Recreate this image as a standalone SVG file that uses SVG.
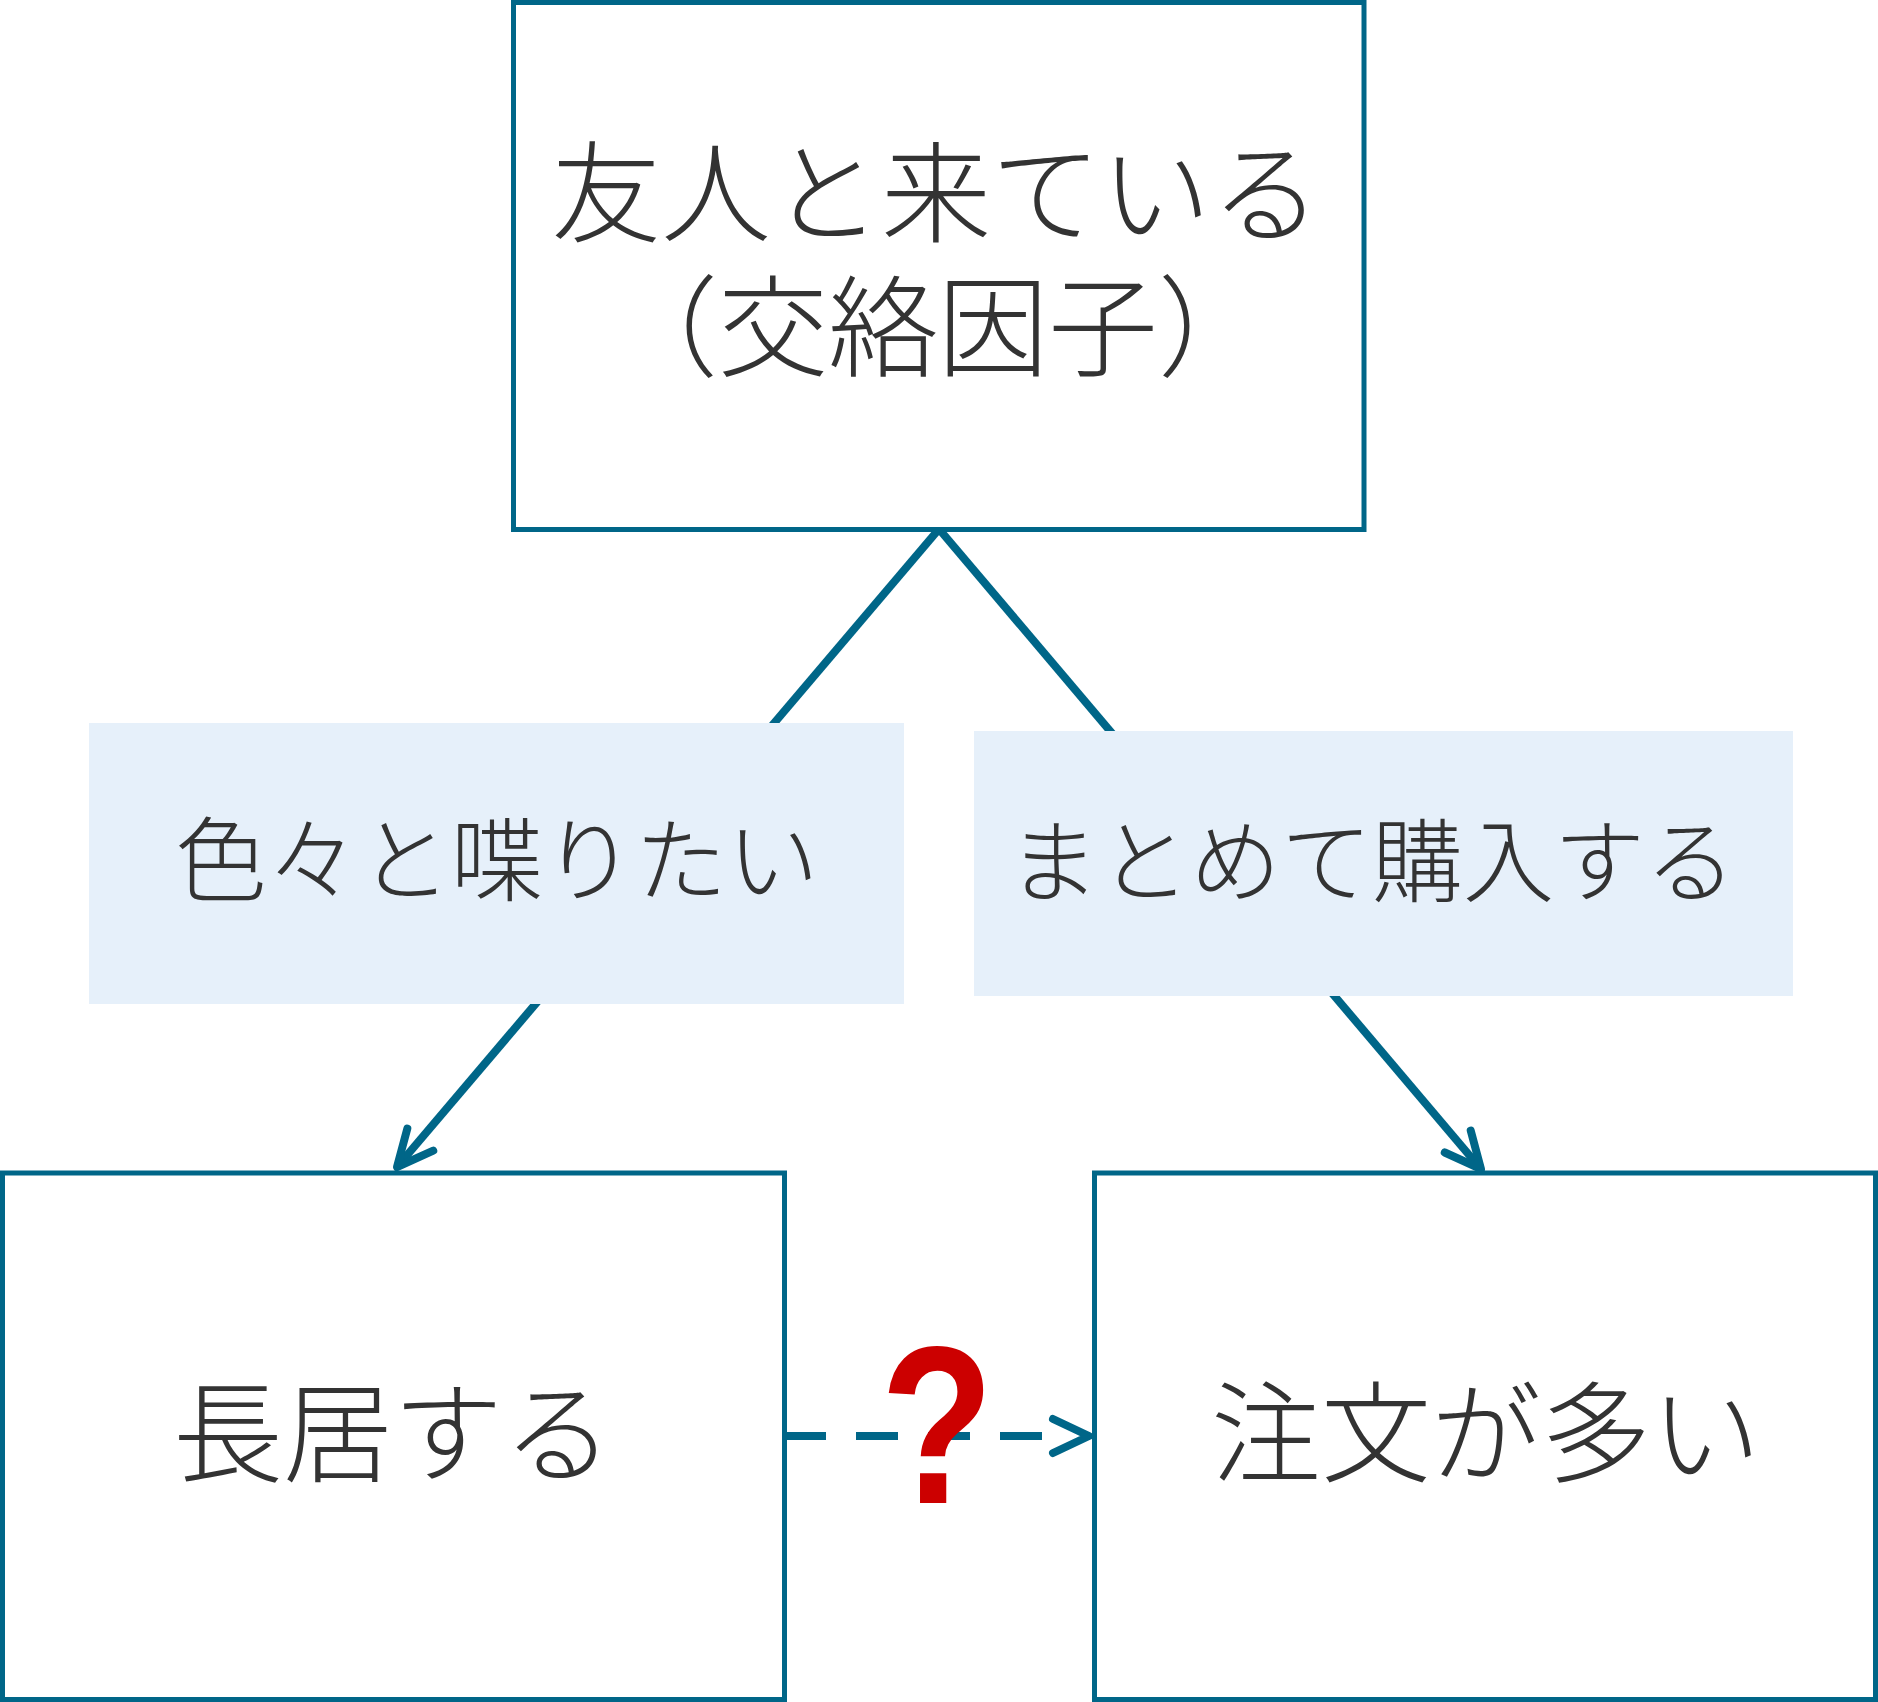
<svg xmlns="http://www.w3.org/2000/svg" width="1878" height="1702" viewBox="0 0 1878 1702">
  <style>
    .box { fill: #FFFFFF; stroke: #006688; stroke-width: 5; }
    .lbl { fill: #E6F0FA; stroke: none; }
    .txt { font-family: "Noto Sans CJK JP", "Noto Sans", sans-serif; font-weight: 300; fill: #333333; text-anchor: middle; }
    .big { font-size: 110px; }
    .mid { font-size: 92px; }
    .edge { fill: none; stroke: #006688; stroke-width: 8; stroke-linejoin: round; }
    .q { font-family: "Liberation Sans", Arial, sans-serif; font-weight: bold; font-size: 224px; fill: #CC0000; text-anchor: middle; }
  </style>
  <defs>
    <marker id="open" markerUnits="userSpaceOnUse" viewBox="-50 -30 60 60" markerWidth="60" markerHeight="60" refX="0" refY="0" orient="auto" overflow="visible">
      <path d="M-36,-17 L0,0 L-36,17" fill="none" stroke="#006688" stroke-width="8" stroke-linecap="round" stroke-linejoin="round" stroke-dasharray="none"/>
    </marker>
  </defs>
  <rect width="1878" height="1702" fill="#FFFFFF"/>

  <g id="connectors">
    <path id="e-left" class="edge" d="M939,529 L397,1167" marker-end="url(#open)"/>
    <path id="e-right" class="edge" d="M939,529 L1481,1169" marker-end="url(#open)"/>
    <path id="e-dashed" class="edge" d="M784,1436 L1089,1436" stroke-dasharray="42 30 42 30 42 30 42 30 0 200" marker-end="url(#open)"/>
  </g>

  <g id="node-top">
    <rect class="box" x="513.5" y="2.5" width="850.5" height="527"/>
    <text class="txt big" x="936" y="234">友人と来ている</text>
    <text class="txt big" x="938" y="368">（交絡因子）</text>
  </g>

  <g id="label-left">
    <rect class="lbl" x="89" y="723" width="815" height="281"/>
    <text class="txt mid" x="497" y="894">色々と喋りたい</text>
  </g>

  <g id="label-right">
    <rect class="lbl" x="974" y="731" width="819" height="265"/>
    <text class="txt mid" x="1372" y="895" style="font-size:91px">まとめて購入する</text>
  </g>

  <g id="node-stay">
    <rect class="box" x="2.5" y="1173" width="782" height="526.5"/>
    <text class="txt big" x="393" y="1474">長居する</text>
  </g>

  <g id="node-order">
    <rect class="box" x="1094.5" y="1173" width="781" height="526.5"/>
    <text class="txt big" x="1486" y="1474">注文が多い</text>
  </g>

  <g id="question">
    <text class="q" x="0" y="0" transform="translate(937,1503) scale(0.83,1)">?</text>
  </g>
</svg>
